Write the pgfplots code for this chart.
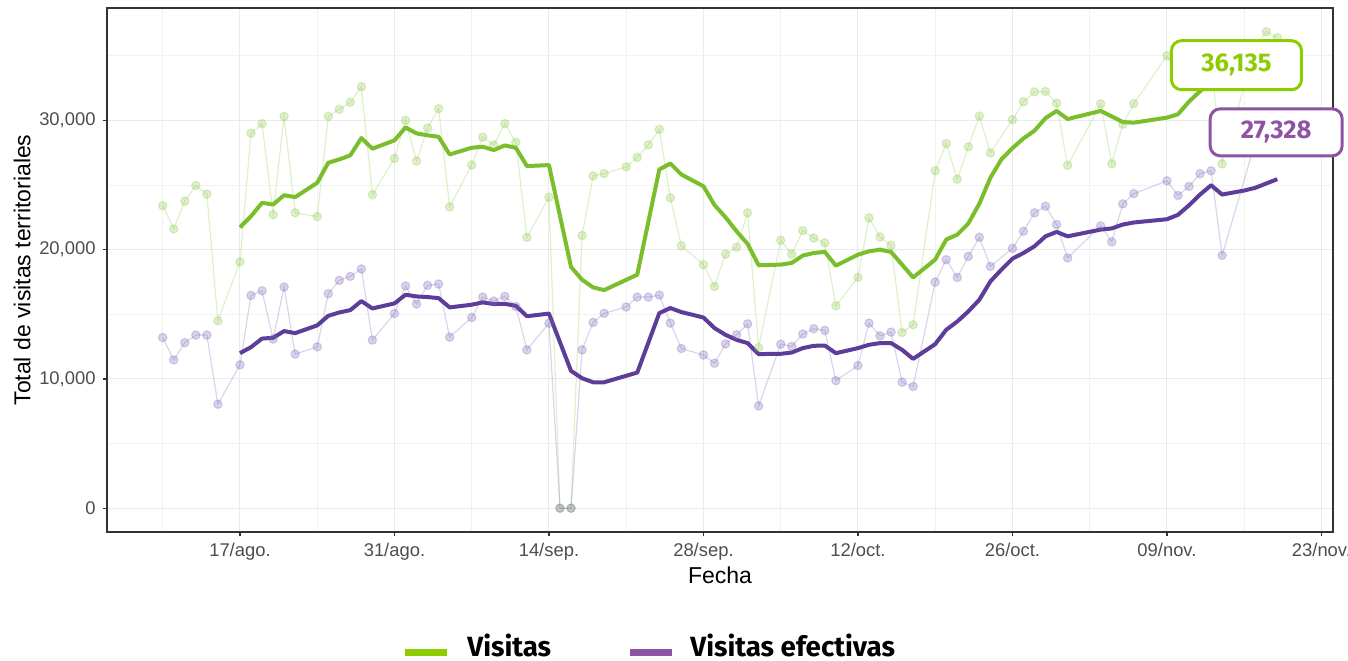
\documentclass[border=0pt]{standalone}
\usepackage{pgfplots}
\pgfplotsset{compat=1.18}
\usepackage{fontspec}
\setmainfont{Liberation Sans}
\newfontfamily\legfont{Fira Sans}
\definecolor{gline}{RGB}{122,190,44}
\definecolor{pline}{RGB}{94,60,153}
\definecolor{graw}{RGB}{140,200,70}
\definecolor{praw}{RGB}{125,100,185}
\definecolor{glab}{RGB}{140,204,0}
\definecolor{plab}{RGB}{142,84,163}
\definecolor{tickgray}{RGB}{77,77,77}
\begin{document}
\begin{tikzpicture}[x=1pt,y=1pt]
\path[use as bounding box] (0,0) rectangle (674,330);
\begin{axis}[
  at={(53.5pt,64pt)}, anchor=south west,
  scale only axis, width=613pt, height=262pt,
  xmin=-12.05, xmax=99.05, ymin=-1842, ymax=38690,
  clip=false,
  axis line style={draw=black!80, line width=0.6pt},
  tick pos=left, tick align=outside,
  major tick length=2.2pt, minor tick length=0pt,
  tick style={draw=black!80, line width=0.6pt},
  xtick={0,14,28,42,56,70,84,98},
  xticklabels={17/ago.,31/ago.,14/sep.,28/sep.,12/oct.,26/oct.,09/nov.,23/nov.},
  minor xtick={-7,7,21,35,49,63,77,91},
  ytick={0,10000,20000,30000},
  yticklabels={0,{10,000},{20,000},{30,000}},
  minor ytick={5000,15000,25000,35000},
  grid=both,
  major grid style={line width=0.5pt, draw=black!8},
  minor grid style={line width=0.4pt, draw=black!5},
  ticklabel style={font=\fontsize{9.2}{11}\selectfont, text=tickgray},
  xlabel={Fecha},
  ylabel={Total de visitas territoriales},
  label style={font=\fontsize{11.5}{13}\selectfont, text=black},
  xlabel style={at={(axis description cs:0.5,-0.082)}, anchor=center},
  ylabel style={at={(axis description cs:-0.0693,0.5)}, anchor=center},
]
% raw Visitas
\addplot[color=graw, opacity=0.28, line width=0.6pt, mark=*, mark size=2.1pt] coordinates {
(-7,23400) (-6,21600) (-5,23750) (-4,24950) (-3,24300) (-2,14500)
(0,19050) (1,29000) (2,29750) (3,22700) (4,30300) (5,22850)
(7,22550) (8,30300) (9,30850) (10,31400) (11,32600) (12,24250)
(14,27050) (15,30000) (16,26850) (17,29400) (18,30900) (19,23300)
(21,26550) (22,28700) (23,28100) (24,29750) (25,28300) (26,20950)
(28,24050) (29,0) (30,0) (31,21100) (32,25700) (33,25880)
(35,26400) (36,27130) (37,28100) (38,29300) (39,24000) (40,20300)
(42,18840) (43,17150) (44,19650) (45,20180) (46,22850) (47,12430)
(49,20720) (50,19660) (51,21470) (52,20900) (53,20520) (54,15660)
(56,17850) (57,22450) (58,20980) (59,20330) (60,13590) (61,14190)
(63,26100) (64,28200) (65,25450) (66,27950) (67,30330) (68,27480)
(70,30050) (71,31430) (72,32200) (73,32230) (74,31330) (75,26520)
(78,31270) (79,26650) (80,29700) (81,31300)
(84,35000) (85,33500) (86,34200) (87,35000) (88,34500) (89,26630)
(92,35600) (93,36850) (94,36400)
};
% raw Visitas efectivas
\addplot[color=praw, opacity=0.28, line width=0.6pt, mark=*, mark size=2.1pt] coordinates {
(-7,13200) (-6,11470) (-5,12800) (-4,13390) (-3,13390) (-2,8040)
(0,11090) (1,16460) (2,16820) (3,13080) (4,17110) (5,11920)
(7,12480) (8,16590) (9,17620) (10,17930) (11,18500) (12,13000)
(14,15060) (15,17190) (16,15790) (17,17240) (18,17340) (19,13230)
(21,14750) (22,16330) (23,16020) (24,16380) (25,15600) (26,12250)
(28,14315) (29,0) (30,0) (31,12250) (32,14370) (33,15070)
(35,15560) (36,16330) (37,16330) (38,16480) (39,14315) (40,12350)
(42,11850) (43,11210) (44,12710) (45,13410) (46,14260) (47,7910)
(49,12690) (50,12510) (51,13470) (52,13880) (53,13750) (54,9870)
(56,11030) (57,14315) (58,13330) (59,13620) (60,9740) (61,9410)
(63,17490) (64,19220) (65,17850) (66,19480) (67,20950) (68,18700)
(70,20100) (71,21420) (72,22850) (73,23360) (74,21940) (75,19360)
(78,21830) (79,20600) (80,23540) (81,24330)
(84,25320) (85,24190) (86,24890) (87,25870) (88,26100) (89,19550)
(92,28300) (93,29000) (94,28600)
};
% smoothed Visitas
\addplot[color=gline, line width=2pt, line join=round] coordinates {
(0,21730) (1,22580) (2,23620) (3,23490) (4,24210) (5,24060)
(7,25170) (8,26720) (9,26980) (10,27290) (11,28630) (12,27810)
(14,28450) (15,29450) (16,28990) (17,28840) (18,28730) (19,27360)
(21,27880) (22,27960) (23,27700) (24,28060) (25,27880) (26,26460)
(28,26540) (30,18660) (31,17670) (32,17080) (33,16870)
(36,18060) (38,26200) (39,26660) (40,25810)
(42,24900) (43,23450) (44,22500) (45,21420) (46,20440) (47,18790)
(49,18840) (50,18970) (51,19540) (52,19740) (53,19820) (54,18760)
(56,19610) (57,19870) (58,20000) (59,19820) (60,18840) (61,17850)
(63,19230) (64,20780) (65,21160) (66,22020) (67,23550) (68,25560)
(69,26980) (70,27850) (71,28600) (72,29200) (73,30170) (74,30730) (75,30100)
(78,30730) (79,30300) (80,29870) (81,29820)
(84,30210) (85,30470) (86,31450) (87,32250) (88,33000) (89,33600)
(91,34500) (92,35000) (94,36100)
};
% smoothed Visitas efectivas
\addplot[color=pline, line width=2pt, line join=round] coordinates {
(0,11990) (1,12455) (2,13120) (3,13180) (4,13700) (5,13540)
(7,14140) (8,14880) (9,15140) (10,15320) (11,16020) (12,15450)
(14,15840) (15,16510) (16,16380) (17,16330) (18,16250) (19,15530)
(21,15740) (22,15920) (23,15790) (24,15810) (25,15650) (26,14850)
(28,15050) (30,10620) (31,10050) (32,9740) (33,9740)
(36,10490) (38,15090) (39,15480) (40,15170)
(42,14750) (43,13930) (44,13410) (45,13020) (46,12770) (47,11920)
(49,11940) (50,12040) (51,12380) (52,12560) (53,12580) (54,11990)
(56,12380) (57,12640) (58,12770) (59,12770) (60,12250) (61,11550)
(63,12690) (64,13800) (65,14440) (66,15220) (67,16120) (68,17540)
(69,18450) (70,19300) (71,19740) (72,20260) (73,21030) (74,21370) (75,21030)
(78,21550) (79,21640) (80,21940) (81,22100)
(84,22350) (85,22690) (86,23430) (87,24260) (88,24980) (89,24260)
(91,24570) (92,24780) (94,25450)
};
\coordinate (glabc) at (axis cs:90.3,34264);
\coordinate (plabc) at (axis cs:93.9,29070);
\end{axis}
% value labels (on top of the plots)
\node[draw=glab, line width=1.5pt, rounded corners=5pt, fill=white, minimum width=65pt, minimum height=24.5pt, inner sep=0pt, text=glab, font=\legfont\bfseries\fontsize{12.8}{13}\selectfont] at (glabc) {36,135};
\node[draw=plab, line width=1.5pt, rounded corners=5pt, fill=white, minimum width=66pt, minimum height=23.5pt, inner sep=0pt, text=plab, font=\legfont\bfseries\fontsize{12.8}{13}\selectfont] at (plabc) {27,328};
% legend
\draw[glab, line width=3.5pt] (202.5,4) -- (223.5,4);
\node[anchor=base west, inner sep=0pt, font=\legfont\bfseries\fontsize{13.9}{15}\selectfont] at (233.5,2) {Visitas};
\draw[plab, line width=3.5pt] (315,4) -- (336,4);
\node[anchor=base west, inner sep=0pt, font=\legfont\bfseries\fontsize{13.9}{15}\selectfont] at (345,2) {Visitas efectivas};
\end{tikzpicture}
\end{document}
